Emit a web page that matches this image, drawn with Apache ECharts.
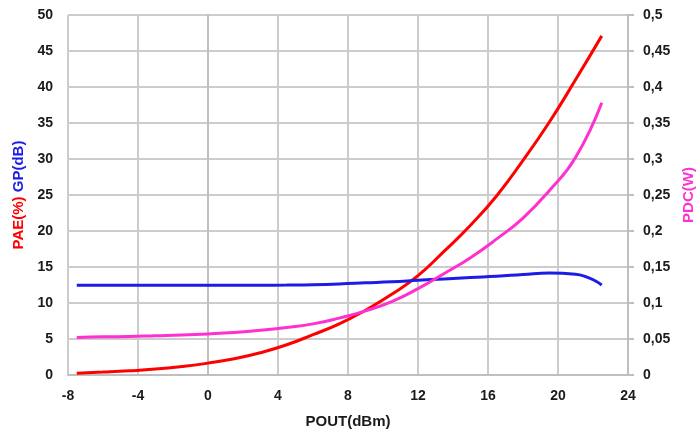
<!DOCTYPE html>
<html>
<head>
<meta charset="utf-8">
<script src="https://cdn.jsdelivr.net/npm/echarts@6/dist/echarts.min.js"></script>
<style>html,body{margin:0;padding:0;background:#fff}#c{width:696px;height:430px}</style>
</head>
<body>
<div id="c"></div>
<script>
var pout = [-7.5, -6, -4.5, -3, -1.5, 0, 1.5, 3, 4.5, 6, 7.5, 9, 10.5, 12, 13.5, 15, 16.5, 18, 19.5, 21, 22.5];
var pae  = [0.25, 0.4, 0.58, 0.82, 1.18, 1.65, 2.25, 3.1, 4.2, 5.6, 7.1, 9.0, 11.2, 13.8, 17.2, 20.8, 24.9, 29.8, 35.1, 41.0, 47.1];
var gp   = [12.45, 12.45, 12.45, 12.45, 12.45, 12.45, 12.45, 12.47, 12.5, 12.55, 12.65, 12.8, 12.95, 13.15, 13.35, 13.55, 13.72, 13.95, 14.15, 14.0, 12.5];
var pdc  = [0.052, 0.053, 0.0535, 0.0545, 0.0555, 0.057, 0.059, 0.062, 0.066, 0.071, 0.079, 0.089, 0.102, 0.12, 0.141, 0.163, 0.189, 0.218, 0.256, 0.302, 0.378];

function pairs(xs, ys){ return xs.map(function(x,i){ return [x, ys[i]]; }); }

var font = 'Liberation Sans';
var gridColor = '#cccccc';
var chart = echarts.init(document.getElementById('c'));
chart.setOption({
  animation: false,
  grid: { left: 68, right: 68, top: 15, bottom: 55, containLabel: false, outerBoundsMode: 'none' },
  xAxis: {
    type: 'value', min: -8, max: 24, interval: 4,
    name: 'POUT(dBm)', nameLocation: 'middle', nameGap: 39,
    nameTextStyle: { fontFamily: font, fontWeight: 'bold', fontSize: 15, color: '#1a1a1a' },
    axisLine: { lineStyle: { color: '#bfbfbf', width: 2 } },
    axisTick: { show: false },
    axisLabel: { margin: 14, fontFamily: font, fontWeight: 'bold', fontSize: 14, color: '#1a1a1a' },
    splitLine: { show: true, lineStyle: { color: gridColor, width: 2 } }
  },
  yAxis: [{
    type: 'value', min: 0, max: 50, interval: 5, position: 'left',
    name: '{a|PAE(%)} {b|GP(dB)}', nameLocation: 'middle', nameGap: 26, nameRotate: 90,
    nameTextStyle: { fontFamily: font, fontWeight: 'bold', fontSize: 15,
      rich: { a: { color: '#ff0000', fontFamily: font, fontWeight: 'bold', fontSize: 15 },
              b: { color: '#1c1ce6', fontFamily: font, fontWeight: 'bold', fontSize: 15 } } },
    axisLine: { show: true, lineStyle: { color: '#bfbfbf', width: 2 } },
    axisTick: { show: false },
    axisLabel: { margin: 15, fontFamily: font, fontWeight: 'bold', fontSize: 14, color: '#1a1a1a' },
    splitLine: { show: true, lineStyle: { color: gridColor, width: 2 } }
  }, {
    type: 'value', min: 0, max: 0.5, interval: 0.05, position: 'right',
    name: 'PDC(W)', nameLocation: 'middle', nameGap: 52, nameRotate: 90,
    nameTextStyle: { fontFamily: font, fontWeight: 'bold', fontSize: 15, color: '#ff30d0' },
    axisLine: { show: true, lineStyle: { color: '#bfbfbf', width: 2 } },
    axisTick: { show: true, length: 6, lineStyle: { color: '#bfbfbf', width: 2 } },
    axisLabel: { margin: 15, fontFamily: font, fontWeight: 'bold', fontSize: 14, color: '#1a1a1a',
      formatter: function(v){ return String(+v.toFixed(2)).replace('.', ','); } },
    splitLine: { show: false }
  }],
  series: [{
    type: 'line', name: 'PAE', data: pairs(pout, pae), yAxisIndex: 0,
    smooth: 0.5, showSymbol: false, lineStyle: { color: '#ff0000', width: 3 }, z: 3
  }, {
    type: 'line', name: 'GP', data: pairs(pout, gp), yAxisIndex: 0,
    smooth: 0.5, showSymbol: false, lineStyle: { color: '#1c1ce6', width: 3 }, z: 3
  }, {
    type: 'line', name: 'PDC', data: pairs(pout, pdc), yAxisIndex: 1,
    smooth: 0.5, showSymbol: false, lineStyle: { color: '#ff30d0', width: 3 }, z: 3
  }]
});
</script>
</body>
</html>
